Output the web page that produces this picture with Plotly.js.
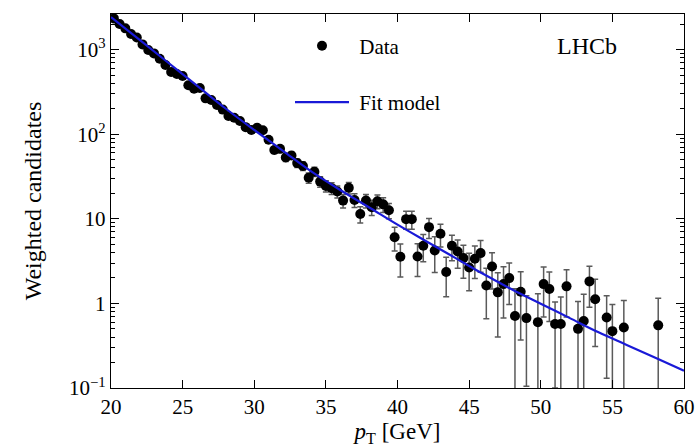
<!DOCTYPE html>
<html>
<head>
<meta charset="utf-8">
<script src="https://cdn.plot.ly/plotly-3.0.1.min.js"></script>
<style>html,body{margin:0;padding:0;background:#fff;}#chart{width:698px;height:447px;}</style>
</head>
<body>
<div id="chart"></div>
<script>
// Data points: bin centres (GeV), weighted candidates, uncertainties
var ptData = [20.2,20.6,21.0,21.4,21.8,22.2,22.6,23.0,23.4,23.8,24.2,24.6,25.0,25.4,25.8,26.2,26.6,27.0,27.4,27.8,
  28.2,28.6,29.0,29.4,29.8,30.2,30.6,31.0,31.4,31.8,32.2,32.6,33.0,33.4,33.8,34.2,34.6,35.0,35.4,35.8,
  36.2,36.6,37.0,37.4,37.8,38.2,38.6,39.0,39.4,39.8,40.2,40.6,41.0,41.4,41.8,42.2,42.6,43.0,43.4,43.8,
  44.2,44.6,45.0,45.4,45.8,46.2,46.6,47.0,47.4,47.8,48.2,48.6,49.0,49.8,50.2,50.6,51.0,51.4,51.8,52.6,
  53.0,53.4,53.8,54.6,55.0,55.8,58.2];
var candData = [2335,2000,1780,1525,1390,1150,986,900,778,656,542,514,487,378,344,351,265,253,221,195,
  164,156,143,121,112,119,111,86,65,67,53,56,45.5,42,30.5,36,27.5,24.4,23.0,21.0,
  16.4,23.2,16.7,11.4,16.4,13.7,16.1,14.8,12.6,6.06,3.55,9.9,9.9,3.58,4.8,7.96,4.22,6.64,2.35,4.79,
  4.10,3.43,2.66,3.37,3.93,1.63,2.73,1.35,1.69,1.99,0.71,1.37,0.67,0.60,1.69,1.48,0.57,0.57,1.59,0.50,
  0.62,1.82,1.12,0.68,0.47,0.52,0.55];
var errData = [36,34,32,29,28,25,24,22.5,21,19,17.5,17,16.5,14.6,14,14,12.2,12,11.2,10.5,
  9.6,9.4,9,8.2,8,8.2,7.9,7,6,6.1,5.5,5.6,5.1,4.9,4.2,4.5,3.9,3.7,3.6,3.4,
  3.0,3.6,3.1,2.5,3.0,2.8,3.0,2.9,2.6,1.9,1.5,2.4,2.4,1.5,1.7,2.1,1.9,2.0,1.15,1.6,
  1.5,1.45,1.25,1.4,1.6,0.97,1.25,0.95,1.02,1.02,0.78,1.0,0.565,0.7,1.0,0.87,0.47,0.62,0.9,0.55,
  0.66,0.92,0.81,0.55,0.5,0.56,0.6];

// Fit model
var ptFit = [20,22,24,26,28,30,32,34,36,38,40,42,44,46,48,50,52,54,56,58,60];
var candFit = [2420,1300,698,375,201,112,63.5,36.1,21.9,13.7,8.53,5.43,3.47,2.22,1.46,0.99,0.674,0.458,0.323,0.228,0.16];

var xTickVals = [20,25,30,35,40,45,50,55,60];
var yTickVals = [0.1,1,10,100,1000];
var yTickText = ['10<sup>\u22121</sup>','1','10','10<sup>2</sup>','10<sup>3</sup>'];
var legendNames = ['\u00a0Data', '\u00a0Fit model'];

var serif = 'Liberation Serif';

var traces = [
  {
    x: ptData, y: candData, type: 'scatter', mode: 'markers', name: legendNames[0],
    legendgroup: 'a',
    marker: {color: '#000', size: 10},
    error_y: {type: 'data', array: errData, visible: true, color: '#5a5a5a', thickness: 1.5, width: 3},
    cliponaxis: true
  },
  {
    x: ptFit, y: candFit, type: 'scatter', mode: 'lines', name: legendNames[1],
    legendgroup: 'b',
    line: {color: 'rgb(25,25,215)', width: 2.2, shape: 'spline'}
  }
];

var layout = {
  width: 698, height: 447,
  margin: {l: 111, r: 14, t: 14, b: 59},
  paper_bgcolor: '#fff', plot_bgcolor: '#fff',
  font: {family: serif, color: '#000', size: 20},
  showlegend: true,
  legend: {
    x: 0.3124, y: 0.969, xanchor: 'left', yanchor: 'top',
    font: {family: serif, size: 21, color: '#000'},
    bgcolor: 'rgba(0,0,0,0)', traceorder: 'grouped', tracegroupgap: 26,
    itemwidth: 54
  },
  xaxis: {
    range: [20, 60], tickvals: xTickVals, ticks: 'inside', ticklen: 8, tickcolor: '#000',
    showline: true, linecolor: '#000', linewidth: 1.2, mirror: 'allticks',
    showgrid: false, zeroline: false,
    tickfont: {family: serif, size: 21, color: '#000'},
    title: {text: '<i>p</i><sub>T</sub> [GeV]', font: {family: serif, size: 23, color: '#000'}, standoff: 4}
  },
  yaxis: {
    type: 'log', range: [-1, 3.42], tickvals: yTickVals, ticktext: yTickText,
    ticks: 'inside', ticklen: 8, tickcolor: '#000',
    showline: true, linecolor: '#000', linewidth: 1.2, mirror: 'allticks',
    showgrid: false, zeroline: false,
    minor: {tickmode: 'linear', dtick: 'D1', ticks: 'inside', ticklen: 4, tickcolor: '#000', showgrid: false},
    tickfont: {family: serif, size: 21, color: '#000'},
    title: {text: 'Weighted candidates', font: {family: serif, size: 24, color: '#000'}, standoff: 20}
  },
  annotations: [{
    text: 'LHCb', xref: 'paper', yref: 'paper', x: 0.83, y: 0.915,
    xanchor: 'center', yanchor: 'middle', showarrow: false,
    font: {family: serif, size: 24, color: '#000'}
  }]
};

Plotly.newPlot('chart', traces, layout, {staticPlot: true, displayModeBar: false});
</script>
</body>
</html>
